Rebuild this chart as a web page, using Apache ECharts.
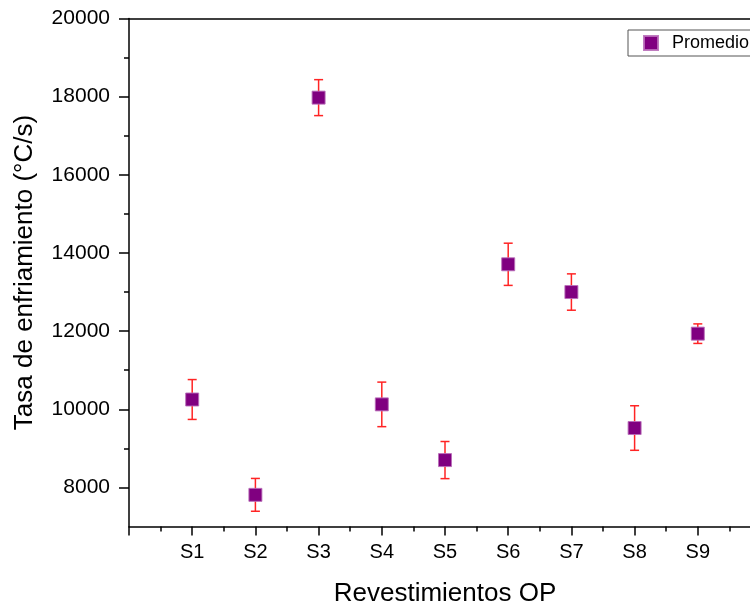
<!DOCTYPE html>
<html>
<head>
<meta charset="utf-8">
<script src="https://cdn.jsdelivr.net/npm/echarts@6/dist/echarts.min.js"></script>
<style>
  html, body { margin: 0; padding: 0; background: #fff; }
  #chart { width: 750px; height: 607px; }
</style>
</head>
<body>
<div id="chart"></div>
<script>
// Coating samples on the x axis
const categories = ['S1', 'S2', 'S3', 'S4', 'S5', 'S6', 'S7', 'S8', 'S9'];
// Mean cooling rate (°C/s) and its error (±)
const promedio = [10250, 7810, 17975, 10125, 8700, 13710, 13000, 9520, 11935];
const errores = [510, 420, 460, 570, 475, 540, 465, 570, 250];
// Y axis ticks: labelled (long) and unlabelled (short)
const yMajorTicks = [8000, 10000, 12000, 14000, 16000, 18000, 20000];
const yMinorTicks = [9000, 11000, 13000, 15000, 17000, 19000];

const FONT = "'Liberation Sans', Arial, sans-serif";

const pointData = categories.map((c, i) => [i + 1, promedio[i]]);
const errorData = categories.map((c, i) => [i + 1, promedio[i] - errores[i], promedio[i] + errores[i]]);

const chart = echarts.init(document.getElementById('chart'), null, { renderer: 'canvas' });

const axisLineStyle = { color: '#000', width: 1.5 };

chart.setOption({
  animation: false,
  backgroundColor: '#fff',
  textStyle: { fontFamily: FONT },
  grid: { left: 129, top: 18.5, width: 632, height: 508, outerBoundsMode: 'none', containLabel: false },
  legend: {
    data: ['Promedio'],
    left: 628,
    top: 30,
    icon: 'rect',
    itemWidth: 14,
    itemHeight: 14,
    borderColor: '#555',
    borderWidth: 1,
    padding: [4, 30, 4, 15],
    textStyle: { fontFamily: FONT, fontSize: 18, color: '#000', padding: [0, 0, 0, 9] }
  },
  xAxis: [
    {
      type: 'value',
      position: 'bottom',
      min: 0,
      max: 10,
      interval: 1,
      name: 'Revestimientos OP',
      nameLocation: 'middle',
      nameGap: 54,
      nameTextStyle: { fontFamily: FONT, fontSize: 26, color: '#000' },
      axisLine: { lineStyle: axisLineStyle },
      axisTick: { show: true, inside: false, length: 9, lineStyle: { color: '#000', width: 1.5 } },
      minorTick: { show: true, splitNumber: 2, length: 5, lineStyle: { color: '#000', width: 1.5 } },
      axisLabel: {
        fontFamily: FONT, fontSize: 20, color: '#000', margin: 16,
        formatter: v => categories[v - 1] || ''
      },
      splitLine: { show: false }
    },
    {
      type: 'value',
      position: 'top',
      min: 0,
      max: 10,
      axisLine: { lineStyle: axisLineStyle },
      axisTick: { show: false },
      axisLabel: { show: false },
      splitLine: { show: false }
    }
  ],
  yAxis: [
    {
      type: 'value',
      position: 'left',
      min: 7000,
      max: 20000,
      name: 'Tasa de enfriamiento (°C/s)',
      nameLocation: 'middle',
      nameGap: 91,
      nameTextStyle: { fontFamily: FONT, fontSize: 26, color: '#000' },
      axisLine: { lineStyle: axisLineStyle },
      axisTick: { show: true, inside: false, length: 10, customValues: yMajorTicks, lineStyle: { color: '#000', width: 1.5 } },
      axisLabel: {
        fontFamily: FONT, fontSize: 21, color: '#000', margin: 19, customValues: yMajorTicks,
        formatter: v => String(v)
      },
      splitLine: { show: false }
    },
    {
      type: 'value',
      position: 'left',
      min: 7000,
      max: 20000,
      axisLine: { show: false },
      axisTick: { show: true, inside: false, length: 5, customValues: yMinorTicks, lineStyle: { color: '#000', width: 1.5 } },
      axisLabel: { show: false },
      splitLine: { show: false }
    }
  ],
  series: [
    {
      name: 'Error',
      type: 'custom',
      xAxisIndex: 0,
      yAxisIndex: 0,
      z: 2,
      data: errorData,
      renderItem: (params, api) => {
        const x = api.value(0);
        const lo = api.coord([x, api.value(1)]);
        const hi = api.coord([x, api.value(2)]);
        const hw = 4.5;
        const style = { stroke: '#ff2424', lineWidth: 1.5 };
        return {
          type: 'group',
          children: [
            { type: 'line', shape: { x1: lo[0], y1: lo[1], x2: hi[0], y2: hi[1] }, style },
            { type: 'line', shape: { x1: lo[0] - hw, y1: lo[1], x2: lo[0] + hw, y2: lo[1] }, style },
            { type: 'line', shape: { x1: hi[0] - hw, y1: hi[1], x2: hi[0] + hw, y2: hi[1] }, style }
          ]
        };
      }
    },
    {
      name: 'Promedio',
      type: 'scatter',
      xAxisIndex: 0,
      yAxisIndex: 0,
      z: 3,
      symbol: 'rect',
      symbolSize: 13,
      itemStyle: { color: '#800080', borderColor: 'rgba(185,110,185,0.9)', borderWidth: 1, opacity: 1 },
      data: pointData
    }
  ]
});
</script>
</body>
</html>
